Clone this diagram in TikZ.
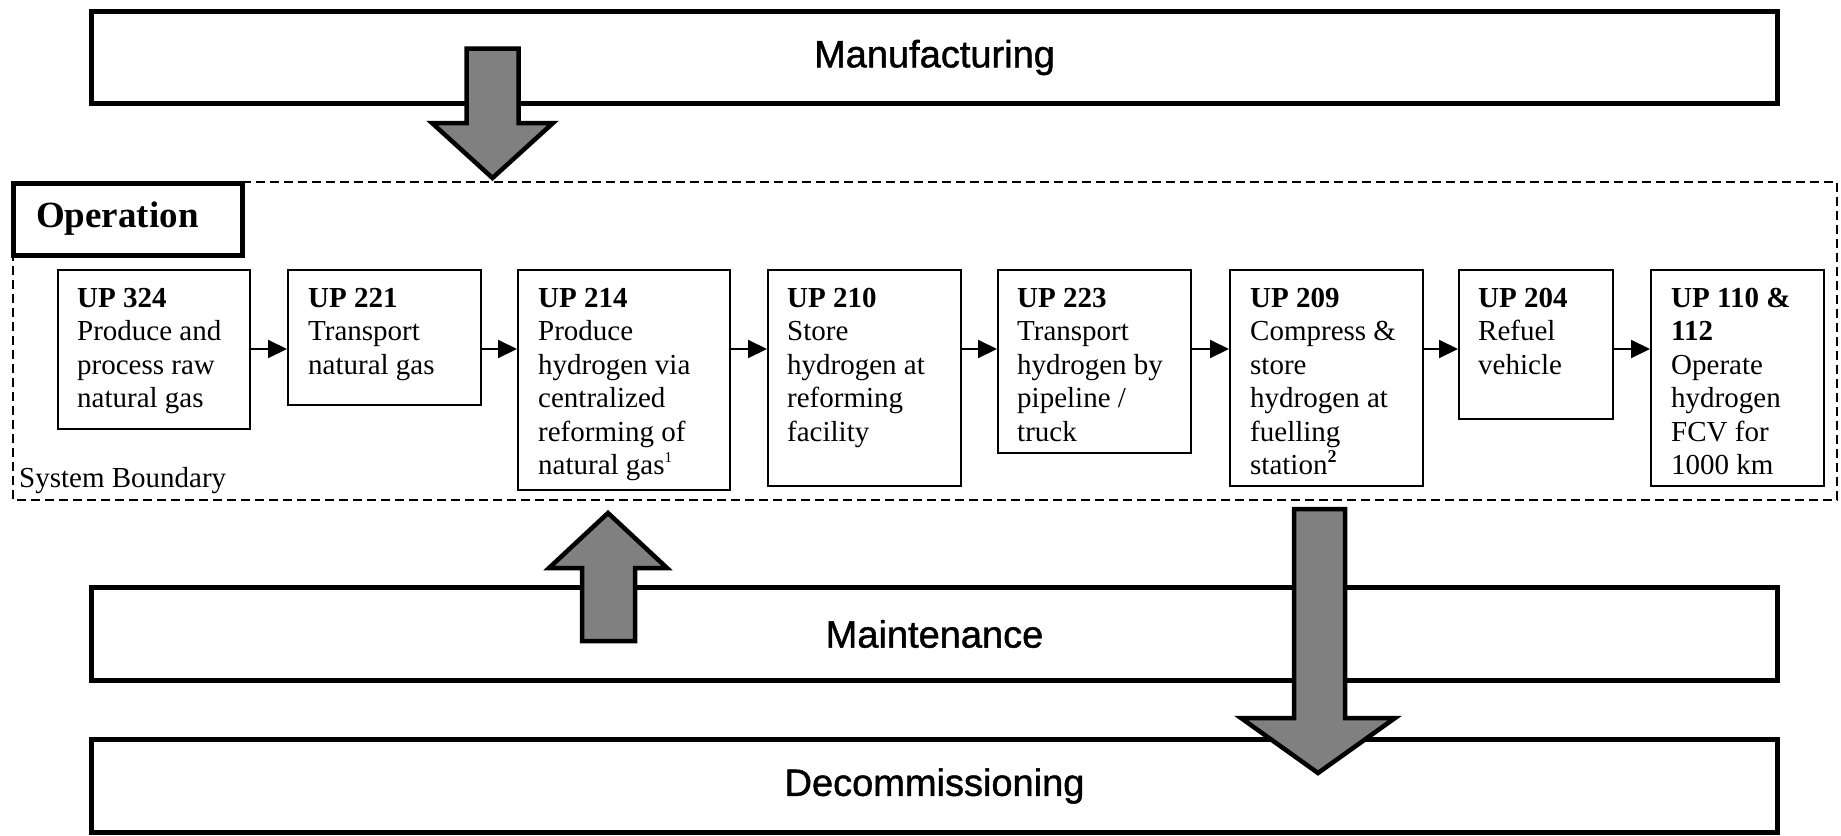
\documentclass[tikz,border=0pt]{standalone}
\usepackage{fontspec}
\setmainfont{Liberation Serif}
\newfontfamily\sansf[FakeBold=1.2]{Liberation Sans}
\usetikzlibrary{arrows.meta}
\definecolor{arrowgray}{HTML}{808080}
\begin{document}
\begin{tikzpicture}[x=1pt,y=-1pt,
  bigbox/.style={draw, line width=5pt, rectangle, inner sep=0pt, font=\sansf\fontsize{38}{44}\selectfont},
  opbox/.style={draw, line width=5pt, rectangle, inner sep=0pt},
  pbox/.style={draw, line width=1.5pt, rectangle, inner sep=0pt, anchor=north west},
  ptext/.style={anchor=north west, inner sep=0pt, align=left, font=\fontsize{29}{33.5}\selectfont},
  flow/.style={line width=2pt, -{Triangle[length=19pt,width=18pt]}},
  fatarrow/.style={draw=black, fill=arrowgray, line width=4.5pt, line join=miter},
  boundary/.style={draw, line width=1.5pt, dash pattern=on 9pt off 5pt}
]
\useasboundingbox (0,0) rectangle (1841,835);

% system boundary
\draw[boundary] (13,182) rectangle (1837,500);

% life-cycle boxes
\node[bigbox, minimum width=1686pt, minimum height=92pt] (manu) at (934.5,57.5) {Manufacturing};
\node[bigbox, minimum width=1686pt, minimum height=93pt] (maint) at (934.5,634) {Maintenance};
\node[bigbox, minimum width=1686pt, minimum height=93pt] (decom) at (934.5,786) {Decommissioning};

% operation label
\node[opbox, minimum width=229pt, minimum height=72pt] (op) at (128,219.5) {};
\node[anchor=base west, inner sep=0pt, font=\bfseries\fontsize{37}{40}\selectfont] (optext) at (36,227) {Operation};

\node[anchor=base west, inner sep=0pt, font=\fontsize{29}{33.5}\selectfont] (sb) at (19,487) {System Boundary};

% process boxes
\node[pbox, minimum width=192pt, minimum height=159pt] (b1) at (57,269) {};
\node[pbox, minimum width=193pt, minimum height=135pt] (b2) at (287,269) {};
\node[pbox, minimum width=212pt, minimum height=220pt] (b3) at (517,269) {};
\node[pbox, minimum width=193pt, minimum height=216pt] (b4) at (767,269) {};
\node[pbox, minimum width=193pt, minimum height=183pt] (b5) at (997,269) {};
\node[pbox, minimum width=193pt, minimum height=216pt] (b6) at (1229,269) {};
\node[pbox, minimum width=154pt, minimum height=149pt] (b7) at (1458,269) {};
\node[pbox, minimum width=173pt, minimum height=216pt] (b8) at (1650,269) {};

\node[ptext] (t1) at ([xshift=20pt,yshift=-19pt]b1.north west) {\textbf{UP 324}\\Produce and\\process raw\\natural gas};
\node[ptext] (t2) at ([xshift=21pt,yshift=-19pt]b2.north west) {\textbf{UP 221}\\Transport\\natural gas};
\node[ptext] (t3) at ([xshift=21pt,yshift=-19pt]b3.north west) {\textbf{UP 214}\\Produce\\hydrogen via\\centralized\\reforming of\\natural gas\raisebox{12pt}{\fontsize{15}{15}\selectfont 1}};
\node[ptext] (t4) at ([xshift=20pt,yshift=-19pt]b4.north west) {\textbf{UP 210}\\Store\\hydrogen at\\reforming\\facility};
\node[ptext] (t5) at ([xshift=20pt,yshift=-19pt]b5.north west) {\textbf{UP 223}\\Transport\\hydrogen by\\pipeline /\\truck};
\node[ptext] (t6) at ([xshift=21pt,yshift=-19pt]b6.north west) {\textbf{UP 209}\\Compress \&\\store\\hydrogen at\\fuelling\\station\raisebox{12pt}{\fontsize{18}{18}\selectfont\bfseries 2}};
\node[ptext] (t7) at ([xshift=20pt,yshift=-19pt]b7.north west) {\textbf{UP 204}\\Refuel\\vehicle};
\node[ptext] (t8) at ([xshift=21pt,yshift=-19pt]b8.north west) {\textbf{UP 110 \&}\\\textbf{112}\\Operate\\hydrogen\\FCV for\\1000 km};

% flow arrows
\foreach \a/\b in {b1/b2,b2/b3,b3/b4,b4/b5,b5/b6,b6/b7,b7/b8}
  \draw[flow] ([yshift=-80pt]\a.north east) -- ([yshift=-80pt]\b.north west);

% big gray arrows
\path[fatarrow] (466.5,48.5) -- (518.5,48.5) -- (518.5,123) -- (553,123) -- (492.5,178) -- (432,123) -- (466.5,123) -- cycle;
\path[fatarrow] (582,641) -- (635,641) -- (635,568) -- (667,568) -- (608,513) -- (549,568) -- (582,568) -- cycle;
\path[fatarrow] (1294,509) -- (1345,509) -- (1345,718) -- (1395,718) -- (1318,773) -- (1241,718) -- (1294,718) -- cycle;
\end{tikzpicture}
\end{document}
